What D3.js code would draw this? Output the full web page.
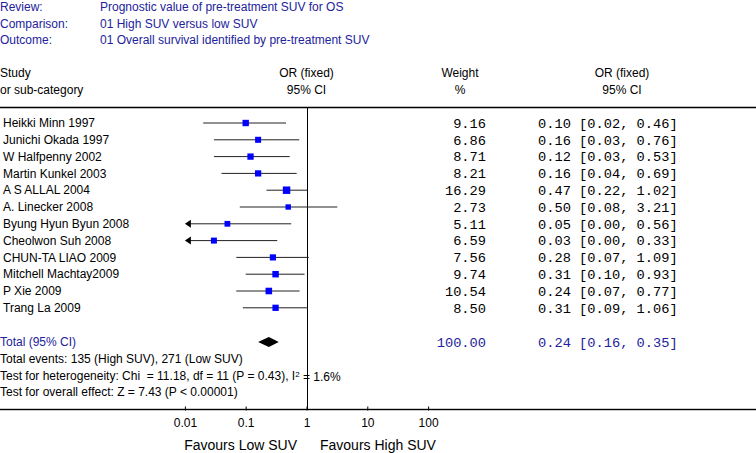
<!DOCTYPE html>
<html>
<head>
<meta charset="utf-8">
<script src="https://cdn.jsdelivr.net/npm/d3@7/dist/d3.min.js"></script>
<style>
  body { margin: 0; background: #fff; }
  svg { display: block; }
  text { font-family: "Liberation Sans", Arial, sans-serif; font-size: 12px; fill: #000; }
  .mono { font-family: "Liberation Mono", "Courier New", monospace; font-size: 13.7px; }
  .blue { fill: #22229c; }
</style>
</head>
<body>
<div class="forest"></div>
<script>
// data
const headerLabels = ["Review:", "Comparison:", "Outcome:"]
const headerValues = [
    "Prognostic value of pre-treatment SUV for OS",
    "01 High SUV versus low SUV",
    "01 Overall survival identified by pre-treatment SUV"
]
const studies = [
    "Heikki Minn 1997", "Junichi Okada 1997", "W Halfpenny 2002", "Martin Kunkel 2003",
    "A S ALLAL 2004", "A. Linecker 2008", "Byung Hyun Byun 2008", "Cheolwon Suh 2008",
    "CHUN-TA LIAO 2009", "Mitchell Machtay2009", "P Xie 2009", "Trang La 2009"
]
const weights = [9.16, 6.86, 8.71, 8.21, 16.29, 2.73, 5.11, 6.59, 7.56, 9.74, 10.54, 8.50]
const oddsRatios = [0.10, 0.16, 0.12, 0.16, 0.47, 0.50, 0.05, 0.03, 0.28, 0.31, 0.24, 0.31]
const lowerCI = [0.02, 0.03, 0.03, 0.04, 0.22, 0.08, 0.00, 0.00, 0.07, 0.10, 0.07, 0.09]
const upperCI = [0.46, 0.76, 0.53, 0.69, 1.02, 3.21, 0.56, 0.33, 1.09, 0.93, 0.77, 1.06]
const total = { weight: 100.00, or: 0.24, lo: 0.16, hi: 0.35 }
const footerLines = [
    "Total events: 135 (High SUV), 271 (Low SUV)",
    "Test for heterogeneity: Chi\u00a0\u00a0= 11.18, df = 11 (P = 0.43), I",
    "Test for overall effect: Z = 7.43 (P < 0.00001)"
]
const tickValues = [0.01, 0.1, 1, 10, 100]
const tickLabels = ["0.01", "0.1", "1", "10", "100"]

const width = 756, height = 453
const fmt = d3.format(".2f")

const svg = d3.select(".forest").append("svg")
    .attr("width", width)
    .attr("height", height)

// scales
const xScale = d3.scaleLog()
    .domain([0.01, 100])
    .range([184.9, 428.1])

const yScale = d3.scalePoint()
    .domain(studies)
    .range([123, 307.8])

const sizeScale = d3.scaleLinear()
    .domain([0, 20])
    .range([5, 8])

const topLine = 107.5, axisY = 409.5, totalY = 342

// review header
headerLabels.forEach((t, i) => {
    svg.append("text").attr("class", "blue").attr("x", 0).attr("y", 7 + i * 16.5).attr("dy", "0.35em").text(t)
    svg.append("text").attr("class", "blue").attr("x", 100).attr("y", 7 + i * 16.5).attr("dy", "0.35em").text(headerValues[i])
})

// column headers
const colHead = [
    { x: 0, anchor: "start", lines: ["Study", "or sub-category"] },
    { x: 306.5, anchor: "middle", lines: ["OR (fixed)", "95% CI"] },
    { x: 460, anchor: "middle", lines: ["Weight", "%"] },
    { x: 622, anchor: "middle", lines: ["OR (fixed)", "95% CI"] }
]
colHead.forEach(c => {
    c.lines.forEach((t, i) => {
        svg.append("text")
            .attr("x", c.x).attr("y", 73 + i * 16.5).attr("dy", "0.35em")
            .attr("text-anchor", c.anchor)
            .text(t)
    })
})

svg.append("line")
    .attr("x1", 0).attr("x2", width)
    .attr("y1", topLine).attr("y2", topLine)
    .attr("stroke", "#000").attr("stroke-width", 1.3)

// line of no effect
svg.append("line")
    .attr("x1", Math.round(xScale(1)) + 0.5).attr("x2", Math.round(xScale(1)) + 0.5)
    .attr("y1", topLine).attr("y2", axisY)
    .attr("stroke", "#000").attr("stroke-width", 1)

// study rows
const rows = svg.selectAll("g.row")
    .data(studies)
    .enter()
    .append("g")
    .attr("class", "row")
    .attr("transform", d => `translate(0,${yScale(d)})`)

rows.append("text")
    .attr("x", 3).attr("dy", "0.35em")
    .text(d => d)

rows.append("text")
    .attr("class", "mono")
    .attr("x", 486).attr("dy", "0.35em")
    .attr("text-anchor", "end")
    .text((d, i) => fmt(weights[i]))

rows.append("text")
    .attr("class", "mono")
    .attr("x", 538).attr("dy", "0.35em")
    .text((d, i) => `${fmt(oddsRatios[i])} [${fmt(lowerCI[i])}, ${fmt(upperCI[i])}]`)

const clipped = i => lowerCI[i] < 0.01

rows.append("line")
    .attr("x1", (d, i) => clipped(i) ? xScale(0.01) + 4 : xScale(lowerCI[i]))
    .attr("x2", (d, i) => xScale(upperCI[i]))
    .attr("stroke", "#222").attr("stroke-width", 1)

rows.filter((d, i) => clipped(i))
    .append("path")
    .attr("d", () => {
        const x0 = xScale(0.01)
        return `M${x0},0 L${x0 + 6},-4 L${x0 + 6},4 Z`
    })
    .attr("fill", "#000")

rows.append("rect")
    .attr("x", (d, i) => xScale(oddsRatios[i]) - sizeScale(weights[i]) / 2)
    .attr("y", (d, i) => -sizeScale(weights[i]) / 2)
    .attr("width", (d, i) => sizeScale(weights[i]))
    .attr("height", (d, i) => sizeScale(weights[i]))
    .attr("fill", "#0000ff")

// total row
svg.append("text").attr("class", "blue")
    .attr("x", 0).attr("y", totalY).attr("dy", "0.35em")
    .text("Total (95% CI)")

svg.append("text").attr("class", "mono blue")
    .attr("x", 486).attr("y", totalY).attr("dy", "0.35em")
    .attr("text-anchor", "end")
    .text(fmt(total.weight))

svg.append("text").attr("class", "mono blue")
    .attr("x", 538).attr("y", totalY).attr("dy", "0.35em")
    .text(`${fmt(total.or)} [${fmt(total.lo)}, ${fmt(total.hi)}]`)

svg.append("path")
    .attr("d", `M${xScale(total.lo)},${totalY} L${xScale(total.or)},${totalY - 5} L${xScale(total.hi)},${totalY} L${xScale(total.or)},${totalY + 5} Z`)
    .attr("fill", "#000")

// footer text
footerLines.forEach((t, i) => {
    const txt = svg.append("text")
        .attr("x", 0).attr("y", 359 + i * 16.5).attr("dy", "0.35em")
        .text(t)
    if (i === 1) {
        txt.append("tspan").attr("dy", "-0.4em").attr("font-size", "8px").text("2")
        txt.append("tspan").attr("dy", "0.4em").text(" = 1.6%")
    }
})

// axis
const axis = svg.append("g")
    .attr("transform", `translate(0,${axisY})`)
    .call(d3.axisBottom(xScale).tickValues(tickValues).tickFormat((d, i) => tickLabels[i]).tickSizeInner(-3).tickSizeOuter(0).tickPadding(9))

axis.select(".domain").remove()
axis.selectAll(".tick line").attr("y2", -3).attr("y1", 1).attr("stroke", "#000")
axis.selectAll(".tick text")
    .attr("font-family", "Liberation Sans, Arial, sans-serif")
    .attr("font-size", "12px")
    .attr("fill", "#000")

svg.append("rect")
    .attr("x", 0).attr("y", axisY - 0.7)
    .attr("width", width).attr("height", 1.4)
    .attr("fill", "#000")

svg.append("text")
    .attr("x", 297).attr("y", 445).attr("dy", "0.35em")
    .attr("text-anchor", "end")
    .style("font-size", "14px")
    .text("Favours Low SUV")

svg.append("text")
    .attr("x", 320).attr("y", 445).attr("dy", "0.35em")
    .style("font-size", "14px")
    .text("Favours High SUV")
</script>
</body>
</html>
